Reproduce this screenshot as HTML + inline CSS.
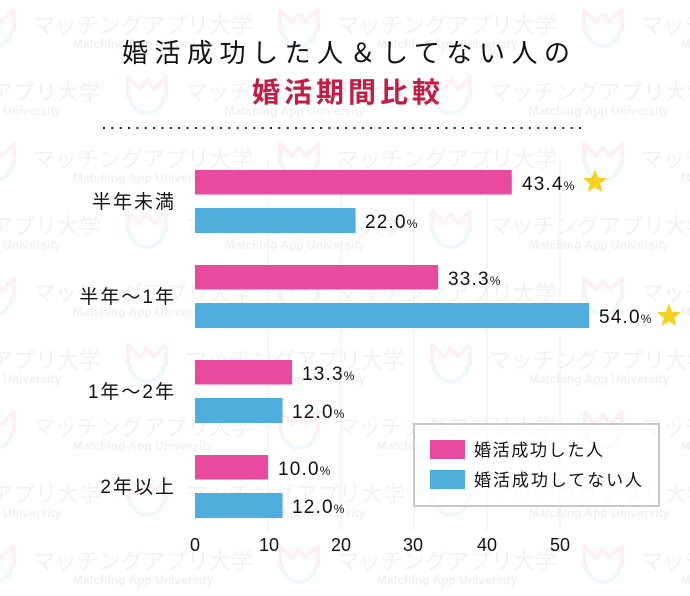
<!DOCTYPE html>
<html><head><meta charset="utf-8"><style>
html,body{margin:0;padding:0;background:#fff;}
svg{display:block;}
.wm{font-family:"Liberation Sans","Noto Sans CJK JP",sans-serif;fill:#f2f2f2;font-size:22px;}
.wme{font-family:"Liberation Sans",sans-serif;fill:#f1f1f1;font-size:12px;font-weight:bold;}
.lab{font-family:"Liberation Sans","Noto Sans CJK JP",sans-serif;fill:#111;}
</style></head><body>
<svg width="690" height="596" viewBox="0 0 690 596" xmlns="http://www.w3.org/2000/svg">
<rect width="690" height="596" fill="#fff"/>
<defs>
<g id="logo">
<path d="M3,24 L3,3 L15,15 L22,6 L29,15 L41,3 L41,24" fill="none" stroke="#fdf1f5" stroke-width="4" stroke-linejoin="round"/>
<path d="M5,22 A17,17 0 0 0 39,22" fill="none" stroke="#f0f7fb" stroke-width="4"/>
</g>
</defs>
<!-- watermark rows -->
<g>
<use href="#logo" x="-27" y="7"/><use href="#logo" x="277" y="7"/><use href="#logo" x="581" y="7"/>
<text class="wm" x="33" y="33" textLength="220">マッチングアプリ大学</text>
<text class="wm" x="337" y="33" textLength="220">マッチングアプリ大学</text>
<text class="wm" x="641" y="33" textLength="220">マッチングアプリ大学</text>
<text class="wme" x="143" y="48" text-anchor="middle">Matching App University</text>
<text class="wme" x="447" y="48" text-anchor="middle">Matching App University</text>
<text class="wme" x="751" y="48" text-anchor="middle">Matching App University</text>

<use href="#logo" x="125" y="74"/><use href="#logo" x="429" y="74"/>
<text class="wm" x="-119" y="100" textLength="220">マッチングアプリ大学</text>
<text class="wm" x="185" y="100" textLength="220">マッチングアプリ大学</text>
<text class="wm" x="489" y="100" textLength="220">マッチングアプリ大学</text>
<text class="wme" x="-9" y="115" text-anchor="middle">Matching App University</text>
<text class="wme" x="295" y="115" text-anchor="middle">Matching App University</text>
<text class="wme" x="599" y="115" text-anchor="middle">Matching App University</text>

<use href="#logo" x="-27" y="141"/><use href="#logo" x="277" y="141"/><use href="#logo" x="581" y="141"/>
<text class="wm" x="33" y="167" textLength="220">マッチングアプリ大学</text>
<text class="wm" x="337" y="167" textLength="220">マッチングアプリ大学</text>
<text class="wm" x="641" y="167" textLength="220">マッチングアプリ大学</text>
<text class="wme" x="143" y="182" text-anchor="middle">Matching App University</text>
<text class="wme" x="447" y="182" text-anchor="middle">Matching App University</text>
<text class="wme" x="751" y="182" text-anchor="middle">Matching App University</text>

<use href="#logo" x="125" y="208"/><use href="#logo" x="429" y="208"/>
<text class="wm" x="-119" y="234" textLength="220">マッチングアプリ大学</text>
<text class="wm" x="185" y="234" textLength="220">マッチングアプリ大学</text>
<text class="wm" x="489" y="234" textLength="220">マッチングアプリ大学</text>
<text class="wme" x="-9" y="249" text-anchor="middle">Matching App University</text>
<text class="wme" x="295" y="249" text-anchor="middle">Matching App University</text>
<text class="wme" x="599" y="249" text-anchor="middle">Matching App University</text>

<use href="#logo" x="-27" y="275"/><use href="#logo" x="277" y="275"/><use href="#logo" x="581" y="275"/>
<text class="wm" x="33" y="301" textLength="220">マッチングアプリ大学</text>
<text class="wm" x="337" y="301" textLength="220">マッチングアプリ大学</text>
<text class="wm" x="641" y="301" textLength="220">マッチングアプリ大学</text>
<text class="wme" x="143" y="316" text-anchor="middle">Matching App University</text>
<text class="wme" x="447" y="316" text-anchor="middle">Matching App University</text>
<text class="wme" x="751" y="316" text-anchor="middle">Matching App University</text>

<use href="#logo" x="125" y="342"/><use href="#logo" x="429" y="342"/>
<text class="wm" x="-119" y="368" textLength="220">マッチングアプリ大学</text>
<text class="wm" x="185" y="368" textLength="220">マッチングアプリ大学</text>
<text class="wm" x="489" y="368" textLength="220">マッチングアプリ大学</text>
<text class="wme" x="-9" y="383" text-anchor="middle">Matching App University</text>
<text class="wme" x="295" y="383" text-anchor="middle">Matching App University</text>
<text class="wme" x="599" y="383" text-anchor="middle">Matching App University</text>

<use href="#logo" x="-27" y="409"/><use href="#logo" x="277" y="409"/><use href="#logo" x="581" y="409"/>
<text class="wm" x="33" y="435" textLength="220">マッチングアプリ大学</text>
<text class="wm" x="337" y="435" textLength="220">マッチングアプリ大学</text>
<text class="wm" x="641" y="435" textLength="220">マッチングアプリ大学</text>
<text class="wme" x="143" y="450" text-anchor="middle">Matching App University</text>
<text class="wme" x="447" y="450" text-anchor="middle">Matching App University</text>
<text class="wme" x="751" y="450" text-anchor="middle">Matching App University</text>

<use href="#logo" x="125" y="476"/><use href="#logo" x="429" y="476"/>
<text class="wm" x="-119" y="502" textLength="220">マッチングアプリ大学</text>
<text class="wm" x="185" y="502" textLength="220">マッチングアプリ大学</text>
<text class="wm" x="489" y="502" textLength="220">マッチングアプリ大学</text>
<text class="wme" x="-9" y="517" text-anchor="middle">Matching App University</text>
<text class="wme" x="295" y="517" text-anchor="middle">Matching App University</text>
<text class="wme" x="599" y="517" text-anchor="middle">Matching App University</text>

<use href="#logo" x="-27" y="543"/><use href="#logo" x="277" y="543"/><use href="#logo" x="581" y="543"/>
<text class="wm" x="33" y="569" textLength="220">マッチングアプリ大学</text>
<text class="wm" x="337" y="569" textLength="220">マッチングアプリ大学</text>
<text class="wm" x="641" y="569" textLength="220">マッチングアプリ大学</text>
<text class="wme" x="143" y="584" text-anchor="middle">Matching App University</text>
<text class="wme" x="447" y="584" text-anchor="middle">Matching App University</text>
<text class="wme" x="751" y="584" text-anchor="middle">Matching App University</text>
</g>

<!-- Title -->
<text x="122" y="62" textLength="448" lengthAdjust="spacing" style="font-family:'Liberation Sans','Noto Sans CJK JP',sans-serif;font-size:26px;fill:#111;">婚活成功した人＆してない人の</text>
<text x="252" y="102" textLength="188" lengthAdjust="spacing" style="font-family:'Liberation Sans','Noto Sans CJK JP',sans-serif;font-size:28px;font-weight:bold;fill:#c41c44;">婚活期間比較</text>
<line x1="103" y1="128" x2="587" y2="128" stroke="#222" stroke-width="2" stroke-dasharray="2,6.35"/>

<!-- gridlines -->
<g stroke="#eeeeee" stroke-width="1">
<line x1="268" y1="160" x2="268" y2="530"/>
<line x1="341" y1="160" x2="341" y2="530"/>
<line x1="414" y1="160" x2="414" y2="530"/>
<line x1="487" y1="160" x2="487" y2="530"/>
<line x1="560" y1="160" x2="560" y2="530"/>
</g>

<!-- bars -->
<g>
<rect x="195" y="170" width="316.8" height="24.5" fill="#e94a9f"/>
<rect x="195" y="208" width="160.6" height="25" fill="#4faede"/>
<rect x="195" y="265" width="243.1" height="24.5" fill="#e94a9f"/>
<rect x="195" y="303" width="394.2" height="25" fill="#4faede"/>
<rect x="195" y="360" width="97.1" height="24.5" fill="#e94a9f"/>
<rect x="195" y="398" width="87.6" height="25" fill="#4faede"/>
<rect x="195" y="455" width="73" height="24.5" fill="#e94a9f"/>
<rect x="195" y="493" width="87.6" height="25" fill="#4faede"/>
</g>

<!-- category labels -->
<g class="lab" style="font-size:19px;" text-anchor="end">
<text x="176" y="208" letter-spacing="2">半年未満</text>
<text x="176" y="303" letter-spacing="2">半年〜1年</text>
<text x="176" y="398" letter-spacing="2">1年〜2年</text>
<text x="176" y="493" letter-spacing="2">2年以上</text>
</g>

<!-- value labels -->
<g class="lab">
<text x="522" y="190"><tspan font-size="19" letter-spacing="1.2">43.4</tspan><tspan font-size="12">%</tspan></text>
<text x="365" y="228"><tspan font-size="19" letter-spacing="1.2">22.0</tspan><tspan font-size="12">%</tspan></text>
<text x="448" y="285"><tspan font-size="19" letter-spacing="1.2">33.3</tspan><tspan font-size="12">%</tspan></text>
<text x="599" y="323"><tspan font-size="19" letter-spacing="1.2">54.0</tspan><tspan font-size="12">%</tspan></text>
<text x="302" y="380"><tspan font-size="19" letter-spacing="1.2">13.3</tspan><tspan font-size="12">%</tspan></text>
<text x="292" y="418"><tspan font-size="19" letter-spacing="1.2">12.0</tspan><tspan font-size="12">%</tspan></text>
<text x="278" y="475"><tspan font-size="19" letter-spacing="1.2">10.0</tspan><tspan font-size="12">%</tspan></text>
<text x="292" y="513"><tspan font-size="19" letter-spacing="1.2">12.0</tspan><tspan font-size="12">%</tspan></text>
</g>

<!-- stars -->
<polygon fill="#f6d21e" transform="translate(595,182)" points="0,-12.5 3.2,-4.4 12,-3.9 5.2,1.7 7.4,10.1 0,5.4 -7.4,10.1 -5.2,1.7 -12,-3.9 -3.2,-4.4"/>
<polygon fill="#f6d21e" transform="translate(669,316)" points="0,-12.5 3.2,-4.4 12,-3.9 5.2,1.7 7.4,10.1 0,5.4 -7.4,10.1 -5.2,1.7 -12,-3.9 -3.2,-4.4"/>

<!-- axis labels -->
<g class="lab" style="font-size:18px;" text-anchor="middle">
<text x="195" y="551">0</text>
<text x="269" y="551">10</text>
<text x="341" y="551">20</text>
<text x="413" y="551">30</text>
<text x="487" y="551">40</text>
<text x="560" y="551">50</text>
</g>

<!-- legend -->
<rect x="414" y="424" width="245" height="82" fill="#fff" fill-opacity="0.6" stroke="#c8c8c8" stroke-width="2"/>
<rect x="430" y="440" width="35" height="19" fill="#e94a9f"/>
<rect x="430" y="470" width="35" height="19" fill="#4faede"/>
<text class="lab" x="474" y="456" textLength="129" lengthAdjust="spacing" style="font-size:17px;">婚活成功した人</text>
<text class="lab" x="474" y="486" textLength="168" lengthAdjust="spacing" style="font-size:17px;">婚活成功してない人</text>
</svg>
</body></html>
